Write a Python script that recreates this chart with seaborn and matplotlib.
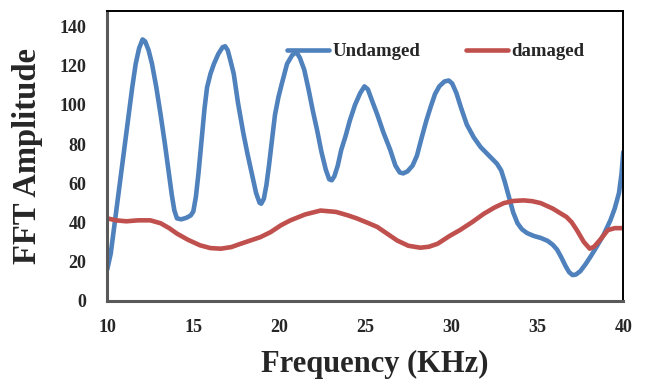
import matplotlib
matplotlib.use("Agg")
import matplotlib.pyplot as plt
from matplotlib.lines import Line2D
import seaborn as sns
import pandas as pd

# --- data ---
undamaged_freq = [10.0, 10.2, 10.45, 10.7, 10.95, 11.2, 11.45, 11.65, 11.85, 12.05, 12.2, 12.4,
                  12.6, 12.85, 13.1, 13.35, 13.55, 13.75, 13.9, 14.05, 14.3, 14.6, 14.85, 15.0,
                  15.15, 15.3, 15.45, 15.65, 15.8, 16.0, 16.2, 16.45, 16.7, 16.85, 17.0, 17.15,
                  17.35, 17.6, 17.9, 18.15, 18.4, 18.65, 18.85, 18.95, 19.1, 19.25, 19.4, 19.6,
                  19.75, 19.95, 20.15, 20.45, 20.75, 21.0, 21.2, 21.45, 21.7, 21.95, 22.2, 22.45,
                  22.7, 22.9, 23.05, 23.2, 23.4, 23.6, 23.85, 24.1, 24.4, 24.7, 24.95, 25.15,
                  25.4, 25.7, 26.05, 26.45, 26.75, 27.0, 27.2, 27.45, 27.75, 28.0, 28.3, 28.55,
                  28.8, 29.05, 29.3, 29.6, 29.85, 30.05, 30.3, 30.55, 30.9, 31.3, 31.7, 32.2,
                  32.65, 32.9, 33.1, 33.35, 33.6, 33.85, 34.1, 34.4, 34.8, 35.2, 35.6, 35.9,
                  36.15, 36.4, 36.65, 36.85, 37.05, 37.25, 37.5, 37.8, 38.1, 38.45, 38.85, 39.25,
                  39.5, 39.75, 39.9, 40.0]
undamaged_amp = [16, 24, 41, 58, 75, 92, 109, 121, 129, 133.5, 132.5, 128,
                 121, 109, 95, 80, 67, 54, 46, 42, 41.5, 42.3, 43.5, 45.5,
                 53, 65, 79, 98, 109, 116, 121, 126, 129.5, 130, 128, 123,
                 116, 101, 86, 75, 65, 55, 50, 49.5, 52, 59, 69, 84,
                 95, 104, 111, 121, 125.5, 127, 124, 118, 108, 97, 87, 76,
                 67, 62, 61.5, 63.5, 69, 77, 84, 92, 100, 106, 109.5, 108,
                 102, 95, 86, 77, 69, 65.5, 65, 66, 69, 74, 84, 92,
                 99, 105.5, 109.5, 112, 112.5, 111, 106, 99, 90, 83.5, 78.5, 74,
                 70, 66.5, 61, 53, 45, 39.5, 36.5, 34.5, 33, 32, 30.5, 28.5,
                 26, 22, 17.5, 14.5, 13, 13.3, 15, 18.5, 22.5, 27.5, 33.5, 41,
                 47, 55, 65, 76]

damaged_freq = [10.0, 10.5, 11.1, 11.8, 12.5, 13.1, 13.6, 14.05, 14.7, 15.4, 16.0, 16.6,
                17.2, 17.75, 18.9, 19.5, 20.1, 20.65, 21.5, 22.4, 23.3, 24.0, 24.5, 25.2,
                25.7, 26.3, 26.85, 27.5, 28.2, 28.7, 29.2, 29.9, 30.5, 31.2, 31.9, 32.5,
                33.05, 33.6, 34.2, 34.7, 35.2, 35.9, 36.7, 37.0, 37.3, 37.7, 38.05, 38.3,
                38.65, 39.1, 39.5, 40.0]
damaged_amp = [42, 41, 40.5, 41, 41, 39.5, 37, 34.2, 31, 28.2, 26.8, 26.5,
               27.3, 29, 32.4, 35, 38.5, 41, 44, 46, 45.3, 43.5, 42, 39.5,
               37.6, 34, 30.7, 28, 27, 27.5, 29, 33, 36, 40, 44.4, 47.5,
               49.8, 50.9, 51.2, 50.8, 49.8, 47, 42.7, 40, 36, 30, 26.5, 27.5,
               31, 36, 37, 37]

series_names = ["Undamged", "damaged"]
x_ticks = [10, 15, 20, 25, 30, 35, 40]
y_ticks = [0, 20, 40, 60, 80, 100, 120, 140]

df = pd.concat([
    pd.DataFrame({"freq": undamaged_freq, "amp": undamaged_amp, "series": series_names[0]}),
    pd.DataFrame({"freq": damaged_freq, "amp": damaged_amp, "series": series_names[1]}),
], ignore_index=True)

sns.set_theme(style="white")
plt.rcParams["font.family"] = ["Liberation Serif", "DejaVu Serif"]
plt.rcParams["font.weight"] = "bold"

fig = plt.figure(figsize=(6.47, 3.90), dpi=100)
ax = fig.add_axes([107.3 / 647, (390 - 300.5) / 390, 516 / 647, 290 / 390])

palette = {"Undamged": "#4F81BD", "damaged": "#C0504D"}
sns.lineplot(data=df, x="freq", y="amp", hue="series", palette=palette,
             sort=False, estimator=None, linewidth=3.3, ax=ax, legend=False)
for ln in ax.get_lines():
    ln.set_solid_joinstyle("round")
    ln.set_solid_capstyle("round")

ax.set_xlim(10, 40)
ax.set_ylim(0, 148.3)
ax.set_xticks(x_ticks)
ax.set_yticks(y_ticks)
ax.tick_params(axis="both", length=0, labelsize=13)
ax.tick_params(axis="x", pad=13)
ax.tick_params(axis="y", pad=15)
for lbl in ax.get_xticklabels() + ax.get_yticklabels():
    lbl.set_fontweight("bold")

ax.set_xlabel("Frequency (KHz)", fontsize=22, fontweight="bold")
ax.set_ylabel("FFT Amplitude", fontsize=23.5, fontweight="bold")
ax.xaxis.set_label_coords((375 - 107.3) / 516, (300.5 - 350) / 290)
ax.yaxis.set_label_coords((43 - 107.3) / 516, 0.5)

for side in ["left", "bottom"]:
    ax.spines[side].set_color("#595959")
    ax.spines[side].set_linewidth(2.2)
for side in ["top", "right"]:
    ax.spines[side].set_color("black")
    ax.spines[side].set_linewidth(1.4)

handles = [Line2D([], [], color=palette[n], linewidth=3.3) for n in series_names]
ax.legend(handles, series_names, loc="center left",
          bbox_to_anchor=((286.7 - 107.3) / 516, (300.5 - 51.7) / 290),
          ncol=2, frameon=False, borderpad=0, borderaxespad=0,
          handlelength=2.25, handletextpad=0.2, columnspacing=2.4,
          prop={"family": "Liberation Serif", "weight": "bold", "size": 13.5})

fig.savefig("out.png", dpi=100)
